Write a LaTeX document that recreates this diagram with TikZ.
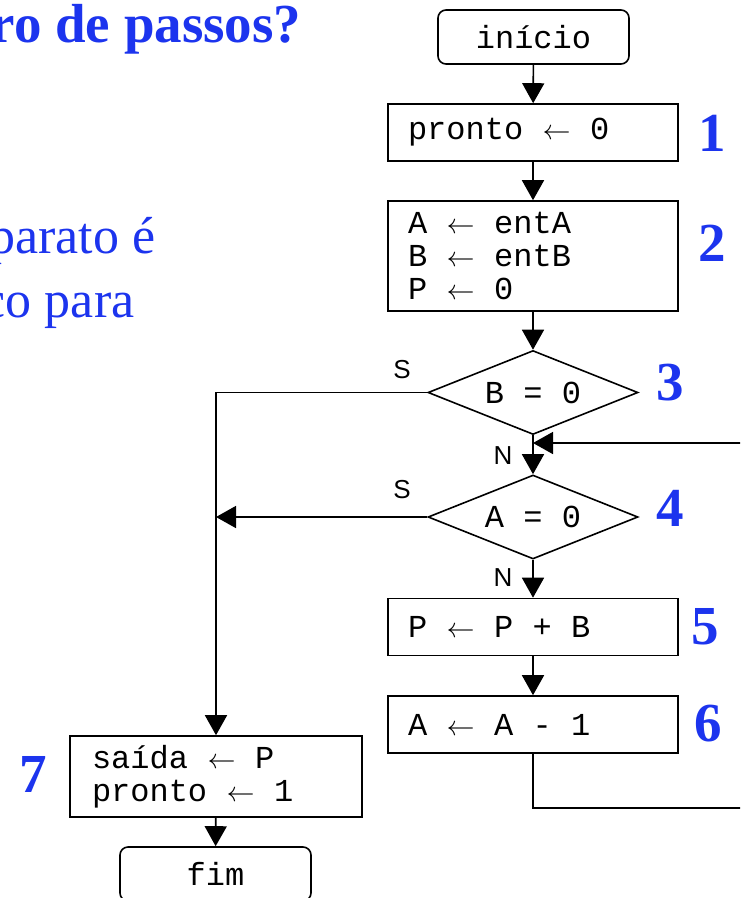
\documentclass[tikz,border=0pt]{standalone}
\usepackage{fontspec}
\usepackage{graphicx}
\setmainfont{Liberation Serif}
\newfontfamily\codefont{Liberation Mono}
\newfontfamily\labelfont{Liberation Sans}
\usetikzlibrary{arrows.meta,shapes.geometric,calc}
\definecolor{stepblue}{RGB}{28,52,238}
% assignment arrow together with the blanks around it
\newcommand{\atrib}{\makebox[67pt][c]{\resizebox{28pt}{!}{$\leftarrow$}}}
% keep the full monospaced blank inside ragged boxes
\newcommand{\fullblanks}{\spaceskip=0pt\xspaceskip=0pt\relax}

\begin{document}
\begin{tikzpicture}[x=1pt,y=-1pt,
  codetext/.style={font=\codefont\fontsize{32}{33}\selectfont},
  proc/.style={draw, line width=1.6pt, codetext, minimum height=57pt,
    text width=250pt, inner xsep=20pt, inner ysep=0pt, align=left},
  term/.style={draw, line width=1.6pt, codetext, rounded corners=8pt,
    minimum width=191pt, minimum height=54pt, inner sep=0pt},
  cond/.style={diamond, draw, line width=1.6pt, codetext, aspect=2.5,
    minimum width=210pt, minimum height=84pt, inner sep=0pt},
  stepnum/.style={font=\bfseries\fontsize{55}{55}\selectfont, text=stepblue},
  yesno/.style={font=\labelfont\fontsize{26}{26}\selectfont},
  flow/.style={line width=1.6pt, -{Triangle[width=22pt,length=20pt]}}
]
\useasboundingbox (0,0) rectangle (740,898);
\clip (0,0) rectangle (740,898);

% slide text behind the chart
\node[anchor=base east, font=\bfseries\fontsize{55}{55}\selectfont, text=stepblue] (title) at (305,42) {ro de passos?};
\node[anchor=base east, font=\fontsize{52}{52}\selectfont, text=stepblue] (line1) at (159,253) {parato é};
\node[anchor=base east, font=\fontsize{52}{52}\selectfont, text=stepblue] (line2) at (138,317) {co para};

% flowchart blocks
\node[term] (ini) at (533.5,37) {início};
\node[proc] (p1) at (533,132.5) {\fullblanks pronto\atrib 0};
\node[proc, minimum height=110pt] (p2) at (533,256) {\fullblanks A\atrib entA\\B\atrib entB\\P\atrib 0};
\node[cond] (d3) at (533,392.5) {B = 0};
\node[cond] (d4) at (533,517) {A = 0};
\node[proc] (p5) at (533,627) {\fullblanks P\atrib P + B};
\node[proc] (p6) at (533,724.5) {\fullblanks A\atrib A - 1};
\node[proc, text width=248pt, inner xsep=22pt, minimum height=81pt] (p7) at (216,776.5) {\fullblanks saída\atrib P\\pronto\atrib 1};
\node[term] (fim) at (215.5,874) {fim};

% step numbers
\node[stepnum] (n1) at (712,133) {1};
\node[stepnum] (n2) at (712,243) {2};
\node[stepnum] (n3) at (670,383) {3};
\node[stepnum] (n4) at (670,508) {4};
\node[stepnum] (n5) at (705,627) {5};
\node[stepnum] (n6) at (708,724) {6};
\node[stepnum] (n7) at (33,774) {7};

% branch labels
\node[yesno] (s3) at (402,370) {S};
\node[yesno] (s4) at (402,490) {S};
\node[yesno] (no3) at (503,456) {N};
\node[yesno] (no4) at (503,578) {N};

% connectors
\draw[flow] (ini) -- (p1);
\draw[flow] (p1) -- (p2);
\draw[flow] (p2) -- (d3);
\draw[flow] (d3) -- (d4);
\draw[flow] (d4) -- (p5);
\draw[flow] (p5) -- (p6);
\draw[flow] (p7) -- (fim);
\draw[flow] (d3.west) -| (p7.north);
\coordinate (trunk) at (p7.north |- d4.west);
\draw[flow] (d4.west) -- (trunk);

% loop back from step 6 to the test of step 4
\coordinate (merge) at (533,443);
\coordinate (loopturn) at (760,808);
\draw[flow] (p6.south) |- (loopturn) |- (merge);
\end{tikzpicture}
\end{document}
